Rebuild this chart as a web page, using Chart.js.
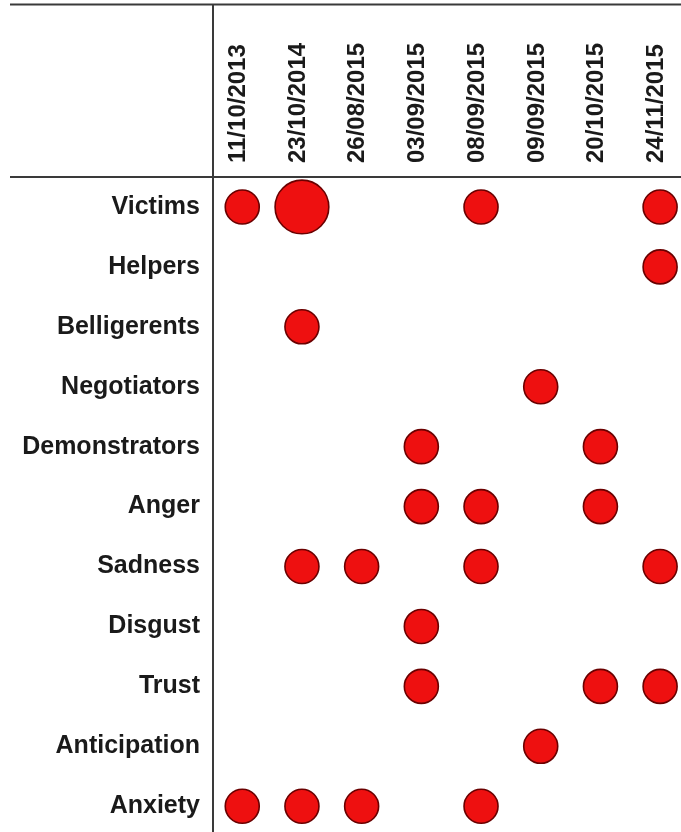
<!DOCTYPE html>
<html>
<head>
<meta charset="utf-8">
<script src="https://cdn.jsdelivr.net/npm/chart.js@4/dist/chart.umd.min.js"></script>
<style>
  html, body { margin: 0; padding: 0; background: #ffffff; overflow: hidden; }
  #wrap { width: 681px; height: 832px; position: relative; }
</style>
</head>
<body>
<div id="wrap"><canvas id="c" width="681" height="832"></canvas></div>
<script>
// ---- data ----
const dates = ["11/10/2013", "23/10/2014", "26/08/2015", "03/09/2015", "08/09/2015", "09/09/2015", "20/10/2015", "24/11/2015"];
const categories = ["Victims", "Helpers", "Belligerents", "Negotiators", "Demonstrators", "Anger", "Sadness", "Disgust", "Trust", "Anticipation", "Anxiety"];
const victims       = [1, 2, 0, 0, 1, 0, 0, 1];
const helpers       = [0, 0, 0, 0, 0, 0, 0, 1];
const belligerents  = [0, 1, 0, 0, 0, 0, 0, 0];
const negotiators   = [0, 0, 0, 0, 0, 1, 0, 0];
const demonstrators = [0, 0, 0, 1, 0, 0, 1, 0];
const anger         = [0, 0, 0, 1, 1, 0, 1, 0];
const sadness       = [0, 1, 1, 0, 1, 0, 0, 1];
const disgust       = [0, 0, 0, 1, 0, 0, 0, 0];
const trust         = [0, 0, 0, 1, 0, 0, 1, 1];
const anticipation  = [0, 0, 0, 0, 0, 1, 0, 0];
const anxiety       = [1, 1, 1, 0, 1, 0, 0, 0];
const rows = [victims, helpers, belligerents, negotiators, demonstrators, anger, sadness, disgust, trust, anticipation, anxiety];

// build bubble points from the arrays
const points = [];
rows.forEach((row, yi) => {
  row.forEach((v, xi) => {
    if (v > 0) points.push({ x: xi, y: yi, v: v });
  });
});

// bubbles may overflow the plot area freely (no extra layout padding)
Chart.BubbleController.prototype.getMaxOverflow = function () { return false; };

const FONT_FAMILY = "'Liberation Sans', Arial, sans-serif";
const LINE_COLOR = '#3a3a3a';

const framePlugin = {
  id: 'frame',
  afterDraw(chart) {
    const { ctx, chartArea } = chart;
    ctx.save();
    ctx.strokeStyle = LINE_COLOR;
    ctx.lineWidth = 2;
    ctx.beginPath();
    // top border
    ctx.moveTo(10, 4.5);
    ctx.lineTo(chart.width, 4.5);
    // header separator
    ctx.moveTo(10, chartArea.top);
    ctx.lineTo(chart.width, chartArea.top);
    // vertical separator
    ctx.moveTo(chartArea.left, 4.5);
    ctx.lineTo(chartArea.left, chart.height);
    ctx.stroke();
    ctx.restore();
  }
};

new Chart(document.getElementById('c'), {
  type: 'bubble',
  data: {
    datasets: [{
      data: points,
      backgroundColor: '#ee1010',
      borderColor: '#6a0000',
      borderWidth: 1.6,
      radius: (c) => (c.raw ? 17 * Math.pow(c.raw.v, 0.66) : 17),
      clip: false
    }]
  },
  options: {
    responsive: false,
    devicePixelRatio: 1,
    animation: false,
    layout: { padding: 0 },
    plugins: { legend: { display: false }, tooltip: { enabled: false } },
    scales: {
      x: {
        type: 'linear',
        position: 'top',
        min: -0.49,
        max: 7.35,
        afterBuildTicks: (axis) => { axis.ticks = dates.map((_, i) => ({ value: i })); },
        afterFit: (axis) => {
          axis.height = 177;
          axis.paddingLeft = 0; axis.paddingRight = 0;
          axis.paddingTop = 0; axis.paddingBottom = 0;
        },
        grid: { display: false, drawTicks: false },
        border: { display: false },
        ticks: {
          autoSkip: false,
          minRotation: 90,
          maxRotation: 90,
          padding: 14,
          labelOffset: 25,
          color: '#1a1a1a',
          font: { family: FONT_FAMILY, size: 24, weight: 'bold' },
          callback: (v) => dates[v]
        }
      },
      y: {
        type: 'linear',
        reverse: true,
        min: -0.5,
        max: 10.43,
        afterBuildTicks: (axis) => { axis.ticks = categories.map((_, i) => ({ value: i })); },
        afterFit: (axis) => {
          axis.width = 213;
          axis.paddingLeft = 0; axis.paddingRight = 0;
          axis.paddingTop = 0; axis.paddingBottom = 0;
        },
        grid: { display: false, drawTicks: false },
        border: { display: false },
        ticks: {
          autoSkip: false,
          padding: 13,
          color: '#1a1a1a',
          font: { family: FONT_FAMILY, size: 25, weight: 'bold' },
          callback: (v) => categories[v]
        }
      }
    }
  },
  plugins: [framePlugin]
});
</script>
</body>
</html>
